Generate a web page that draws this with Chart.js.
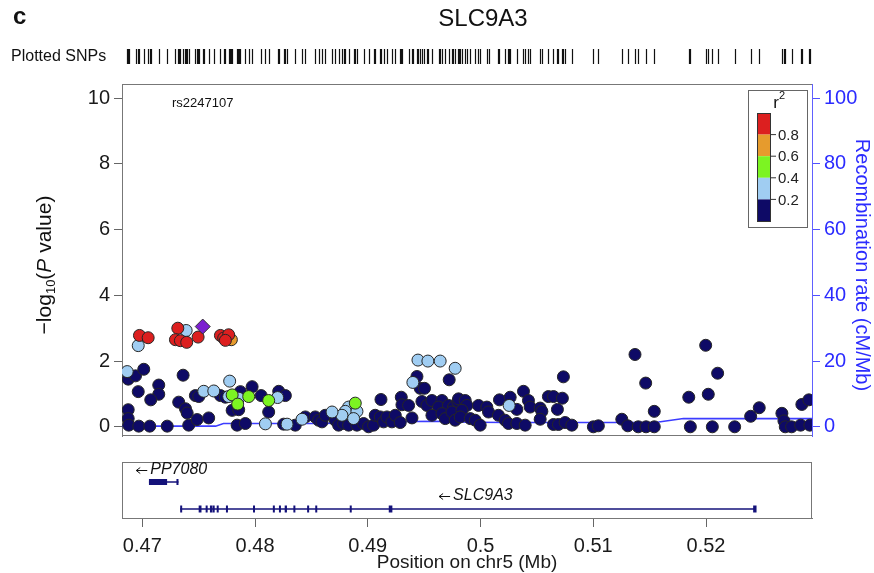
<!DOCTYPE html>
<html>
<head>
<meta charset="utf-8">
<script src="https://cdn.jsdelivr.net/npm/chart.js@4.4.0/dist/chart.umd.min.js"></script>
<style>
  body { margin: 0; background: #fff; }
  #wrap { position: relative; width: 874px; height: 573px; }
  canvas { position: absolute; left: 0; }
  #top { top: 0; }
  #genes { top: 452px; }
</style>
</head>
<body>
<div id="wrap">
  <canvas id="top" width="874" height="452"></canvas>
  <canvas id="genes" width="874" height="121"></canvas>
</div>
<script>
const FONT = '"Liberation Sans", Arial, Helvetica, sans-serif';

// x range of both panels (Mb)
const xMin = 0.4682;
const xMax = 0.5294;
const xTicks = [0.47, 0.48, 0.49, 0.5, 0.51, 0.52];
const yTicks = [0, 2, 4, 6, 8, 10];
const recombTicks = [0, 20, 40, 60, 80, 100];

// SNPs by LD class: position (Mb) and -log10(P)
const leadName = 'rs2247107';
const leadPos = [0.47536];
const leadLogP = [3.05];

const redPos = [0.46975, 0.47052, 0.47315, 0.47294, 0.47338, 0.47394, 0.47495, 0.47693, 0.47722, 0.47766, 0.47737];
const redLogP = [2.78, 2.71, 3.00, 2.65, 2.62, 2.57, 2.73, 2.78, 2.70, 2.80, 2.63];

const orangePos = [0.47790];
const orangeLogP = [2.65];

const greenPos = [0.47797, 0.47846, 0.47944, 0.48121, 0.48889];
const greenLogP = [0.97, 0.69, 0.92, 0.80, 0.72];

const lightPos = [0.46964, 0.47389, 0.46866, 0.47545, 0.47634, 0.47775, 0.47766, 0.47855, 0.48200, 0.48092,
  0.49445, 0.49533, 0.49642, 0.49775, 0.49400, 0.48830, 0.48801, 0.48771, 0.48904, 0.48874,
  0.48683, 0.48417, 0.48284, 0.50254];
const lightLogP = [2.47, 2.93, 1.68, 1.08, 1.09, 1.39, 0.92, 0.87, 0.89, 0.09,
  2.03, 2.00, 2.00, 1.78, 1.35, 0.60, 0.47, 0.35, 0.47, 0.25,
  0.45, 0.23, 0.08, 0.65];

const navyPos = [
  0.46875, 0.46940, 0.47013, 0.47362, 0.46964, 0.47146, 0.47146, 0.47075, 0.47323, 0.47383,
  0.47398, 0.47471, 0.47501, 0.47693, 0.47737, 0.47870, 0.47974, 0.48054, 0.48210, 0.48269,
  0.48121, 0.47797, 0.47855, 0.46875, 0.46875, 0.46880, 0.46969, 0.47066, 0.47221, 0.47412,
  0.47486, 0.47589, 0.47841, 0.47914, 0.48254,
  0.49436, 0.49465, 0.49503, 0.49722, 0.49117, 0.49297, 0.49303, 0.49362, 0.49392, 0.49480,
  0.49525, 0.49569, 0.49658, 0.49628, 0.49716, 0.49760, 0.49799, 0.49805, 0.48357, 0.48446,
  0.48534, 0.48564, 0.48594, 0.48623, 0.48712, 0.48741, 0.48785, 0.48830, 0.48904, 0.48963,
  0.49007, 0.49051, 0.49066, 0.49111, 0.49140, 0.49170, 0.49214, 0.49244, 0.49288, 0.49569,
  0.49658, 0.49687, 0.49746, 0.49775,
  0.50735, 0.50381, 0.50168, 0.50263, 0.50425, 0.50440, 0.50529, 0.50544, 0.50602, 0.50647,
  0.50726, 0.50682, 0.49805, 0.49864, 0.49879, 0.49835, 0.49820, 0.49982, 0.50056, 0.50071,
  0.50159, 0.50322, 0.49909, 0.49953, 0.49997, 0.50219, 0.50248, 0.50322, 0.50396, 0.50529,
  0.50647, 0.50691, 0.50750, 0.50810, 0.51001, 0.51045, 0.51253, 0.51306,
  0.51370, 0.51465, 0.51541, 0.51399, 0.51468, 0.51541, 0.51997, 0.52103, 0.51847, 0.52020,
  0.51861, 0.52056, 0.52254, 0.52396, 0.52472, 0.52673, 0.52691, 0.52703, 0.52759, 0.52839,
  0.52921, 0.52850, 0.52912];
const navyLogP = [
  1.45, 1.55, 1.75, 1.57, 1.07, 1.27, 0.99, 0.82, 0.75, 0.55,
  0.42, 0.95, 0.92, 0.95, 0.90, 1.07, 1.22, 0.95, 1.08, 0.95,
  0.45, 0.50, 0.52, 0.52, 0.25, 0.05, 0.02, 0.02, 0.02, 0.05,
  0.22, 0.27, 0.05, 0.10, 0.08,
  1.53, 1.17, 1.17, 1.43, 0.83, 0.90, 0.67, 0.65, 0.27, 0.77,
  0.65, 0.80, 0.80, 0.60, 0.65, 0.60, 0.77, 0.35, 0.05, 0.30,
  0.30, 0.20, 0.15, 0.35, 0.20, 0.05, 0.10, 0.05, 0.05, 0.10,
  0.00, 0.05, 0.35, 0.30, 0.15, 0.30, 0.15, 0.35, 0.13, 0.35,
  0.40, 0.25, 0.45, 0.20,
  1.52, 1.08, 0.82, 0.90, 0.80, 0.60, 0.57, 0.47, 0.92, 0.92,
  0.87, 0.53, 0.85, 0.80, 0.65, 0.50, 0.30, 0.65, 0.60, 0.45,
  0.35, 0.53, 0.25, 0.20, 0.05, 0.20, 0.10, 0.10, 0.05, 0.23,
  0.07, 0.07, 0.13, 0.05, 0.00, 0.03, 0.23, 0.03,
  2.20, 1.33, 0.47, 0.00, 0.00, 0.00, 2.48, 1.63, 0.90, 0.99,
  0.00, 0.00, 0.00, 0.32, 0.58, 0.41, 0.18, 0.00, 0.00, 0.05,
  0.05, 0.68, 0.82];

// recombination rate (cM/Mb)
const recombPos = [0.4682, 0.4765, 0.4772, 0.4850, 0.4900, 0.4935, 0.4960, 0.4990, 0.5030, 0.5155, 0.5180, 0.5294];
const recombRate = [0.2, 0.2, 1.0, 1.0, 1.2, 1.6, 1.7, 1.4, 1.3, 1.3, 2.5, 2.5];

// r2 legend
const legendColors = ['#dc1f1f', '#e69b2d', '#7cf422', '#a0cdf2', '#0e0a66'];
const legendLabels = ['0.8', '0.6', '0.4', '0.2'];
const leadColor = '#7b1fd0';

// genes
const geneNames = ['PP7080', 'SLC9A3'];
const geneStart = [0.47059, 0.47336];
const geneEnd = [0.47321, 0.52440];
const geneRow = [0, 1];
const exonGene = [0, 0,
  1, 1, 1, 1, 1, 1, 1, 1, 1, 1, 1, 1, 1, 1, 1, 1, 1];
const exonStart = [0.47059, 0.47303,
  0.47336, 0.47500, 0.47562, 0.47600, 0.47624, 0.47660, 0.47742, 0.47982, 0.48158, 0.48212,
  0.48263, 0.48340, 0.48462, 0.48534, 0.48840, 0.49186, 0.52418];
const exonEnd = [0.47220, 0.47321,
  0.47350, 0.47525, 0.47578, 0.47622, 0.47642, 0.47676, 0.47758, 0.47998, 0.48174, 0.48228,
  0.48283, 0.48356, 0.48478, 0.48550, 0.48856, 0.49218, 0.52448];

function pts(xs, ys) { return xs.map((v, i) => ({ x: v, y: ys[i] })); }

const allPos = [].concat(navyPos, lightPos, greenPos, orangePos, redPos, leadPos);

const topDecor = {
  id: 'topDecor',
  afterDraw(chart) {
    const { ctx, chartArea: a, scales: { x, y } } = chart;
    ctx.save();
    // frame top / bottom
    ctx.strokeStyle = '#777';
    ctx.lineWidth = 1;
    ctx.beginPath();
    ctx.moveTo(a.left, a.top + 0.5); ctx.lineTo(a.right, a.top + 0.5);
    ctx.moveTo(a.left, a.bottom - 0.5); ctx.lineTo(a.right, a.bottom - 0.5);
    ctx.stroke();

    // panel letter and title
    ctx.fillStyle = '#111';
    ctx.textBaseline = 'middle';
    ctx.font = 'bold 24px ' + FONT;
    ctx.textAlign = 'left';
    ctx.fillText('c', 13, 17);
    ctx.font = '24px ' + FONT;
    ctx.textAlign = 'center';
    ctx.fillText('SLC9A3', 483, 19);

    // plotted SNP rug
    ctx.font = '16px ' + FONT;
    ctx.textAlign = 'left';
    ctx.fillText('Plotted SNPs', 11, 57);
    ctx.strokeStyle = '#111';
    ctx.lineWidth = 1.2;
    ctx.beginPath();
    allPos.forEach(p => {
      const px = Math.round(x.getPixelForValue(p)) + 0.5;
      ctx.moveTo(px, 49); ctx.lineTo(px, 64);
    });
    ctx.stroke();

    // lead SNP label
    ctx.font = '13px ' + FONT;
    ctx.textAlign = 'center';
    ctx.fillText(leadName, x.getPixelForValue(leadPos[0]), y.getPixelForValue(9.83));

    // left axis title: -log10(P value)
    ctx.save();
    ctx.translate(45, 265);
    ctx.rotate(-Math.PI / 2);
    const parts = [
      { t: '\u2212log', f: '21px ' + FONT, dy: 0 },
      { t: '10', f: '13px ' + FONT, dy: 6 },
      { t: '(', f: '21px ' + FONT, dy: 0 },
      { t: 'P', f: 'italic 21px ' + FONT, dy: 0 },
      { t: ' value)', f: '21px ' + FONT, dy: 0 }
    ];
    let total = 0;
    parts.forEach(p => { ctx.font = p.f; p.w = ctx.measureText(p.t).width; total += p.w; });
    let cx = -total / 2;
    ctx.textAlign = 'left';
    ctx.fillStyle = '#111';
    parts.forEach(p => { ctx.font = p.f; ctx.fillText(p.t, cx, p.dy); cx += p.w; });
    ctx.restore();

    // right axis title
    ctx.save();
    ctx.translate(862, 265);
    ctx.rotate(Math.PI / 2);
    ctx.fillStyle = '#2b2bff';
    ctx.font = '20px ' + FONT;
    ctx.textAlign = 'center';
    ctx.fillText('Recombination rate (cM/Mb)', 0, 0);
    ctx.restore();

    // r2 legend
    const bx = a.right - 64, by = a.top + 6, bw = 59, bh = 137;
    ctx.fillStyle = '#fff';
    ctx.fillRect(bx, by, bw, bh);
    ctx.strokeStyle = '#666';
    ctx.lineWidth = 1;
    ctx.strokeRect(bx + 0.5, by + 0.5, bw, bh);
    ctx.fillStyle = '#111';
    ctx.font = '17px ' + FONT;
    ctx.textAlign = 'center';
    ctx.fillText('r', bx + 28, by + 13);
    ctx.font = '11px ' + FONT;
    ctx.fillText('2', bx + 34, by + 6);
    const segH = 21.6, barX = bx + 9, barW = 13, barTop = by + 23;
    legendColors.forEach((c, i) => {
      ctx.fillStyle = c;
      ctx.fillRect(barX, barTop + i * segH, barW, segH);
    });
    ctx.strokeStyle = '#333';
    ctx.strokeRect(barX + 0.5, barTop + 0.5, barW, segH * legendColors.length);
    ctx.fillStyle = '#222';
    ctx.font = '15px ' + FONT;
    ctx.textAlign = 'left';
    ctx.beginPath();
    legendLabels.forEach((l, i) => {
      const ly = barTop + (i + 1) * segH;
      ctx.moveTo(barX + barW, ly); ctx.lineTo(barX + barW + 6, ly);
      ctx.fillText(l, barX + barW + 8, ly + 1);
    });
    ctx.stroke();
    ctx.restore();
  }
};

const dotStyle = { pointRadius: 6, borderColor: '#262626', borderWidth: 1, clip: 0 };

new Chart(document.getElementById('top'), {
  type: 'scatter',
  data: {
    datasets: [
      { label: leadName, data: pts(leadPos, leadLogP), backgroundColor: leadColor, pointStyle: 'rectRot',
        pointRadius: 7.5, borderColor: '#333', borderWidth: 1, clip: 0, order: 0 },
      Object.assign({ label: '0.8-1', data: pts(redPos, redLogP), backgroundColor: legendColors[0], order: 1 }, dotStyle),
      Object.assign({ label: '0.6-0.8', data: pts(orangePos, orangeLogP), backgroundColor: legendColors[1], order: 2 }, dotStyle),
      Object.assign({ label: '0.4-0.6', data: pts(greenPos, greenLogP), backgroundColor: legendColors[2], order: 3 }, dotStyle),
      Object.assign({ label: '0.2-0.4', data: pts(lightPos, lightLogP), backgroundColor: legendColors[3], order: 4 }, dotStyle),
      Object.assign({ label: '0-0.2', data: pts(navyPos, navyLogP), backgroundColor: legendColors[4], order: 5 }, dotStyle),
      { type: 'line', label: 'recomb', data: pts(recombPos, recombRate), yAxisID: 'y2',
        borderColor: '#3c3cff', borderWidth: 1.6, pointRadius: 0, tension: 0, clip: 0, order: 6 }
    ]
  },
  options: {
    responsive: false,
    animation: false,
    layout: { padding: { top: 84, bottom: 11, left: 0, right: 0 } },
    plugins: { legend: { display: false }, tooltip: { enabled: false } },
    scales: {
      x: { type: 'linear', min: xMin, max: xMax, display: false },
      y: {
        position: 'left', min: -0.28, max: 10.43,
        afterBuildTicks: s => { s.ticks = yTicks.map(v => ({ value: v })); },
        ticks: { font: { size: 20, family: FONT }, color: '#1a1a1a', padding: 4 },
        grid: { drawOnChartArea: false, tickLength: 8, color: '#666' },
        border: { color: '#777' },
        afterFit: s => { s.width = 122; }
      },
      y2: {
        position: 'right', min: -2.8, max: 104.3,
        afterBuildTicks: s => { s.ticks = recombTicks.map(v => ({ value: v })); },
        ticks: { font: { size: 20, family: FONT }, color: '#2b2bff', padding: 4 },
        grid: { drawOnChartArea: false, tickLength: 8, color: '#5050ff' },
        border: { color: '#6060ff' },
        afterFit: s => { s.width = 62; }
      }
    }
  },
  plugins: [topDecor]
});

const geneDecor = {
  id: 'geneDecor',
  afterDraw(chart) {
    const { ctx, chartArea: a, scales: { x } } = chart;
    ctx.save();
    ctx.strokeStyle = '#777';
    ctx.lineWidth = 1;
    ctx.strokeRect(a.left + 0.5, a.top + 0.5, a.right - a.left - 1, a.bottom - a.top);

    const rowLabelY = [18, 44], rowLineY = [30, 57], rowExonH = [6, 7];
    const navy = '#14127a';
    geneNames.forEach((g, i) => {
      const r = geneRow[i];
      const x0 = x.getPixelForValue(geneStart[i]), x1 = x.getPixelForValue(geneEnd[i]);
      ctx.strokeStyle = navy;
      ctx.lineWidth = 1.5;
      ctx.beginPath();
      ctx.moveTo(x0, rowLineY[r]); ctx.lineTo(x1, rowLineY[r]);
      ctx.stroke();
      // label: arrow + italic name
      ctx.font = 'italic 16px ' + FONT;
      const nw = ctx.measureText(g).width;
      const aw = 11;
      const mid = (x0 + x1) / 2 + 8;
      const sx = mid - (aw + nw + 3) / 2;
      const ly = rowLabelY[r];
      ctx.strokeStyle = '#111';
      ctx.lineWidth = 1;
      ctx.beginPath();
      ctx.moveTo(sx, ly + 0.5); ctx.lineTo(sx + aw, ly + 0.5);
      ctx.moveTo(sx + 4, ly - 2.5); ctx.lineTo(sx, ly + 0.5); ctx.lineTo(sx + 4, ly + 3.5);
      ctx.stroke();
      ctx.fillStyle = '#111';
      ctx.textBaseline = 'middle';
      ctx.textAlign = 'left';
      ctx.fillText(g, sx + aw + 3, ly);
    });
    ctx.fillStyle = navy;
    exonStart.forEach((s, j) => {
      const r = geneRow[exonGene[j]];
      const px0 = x.getPixelForValue(s), px1 = x.getPixelForValue(exonEnd[j]);
      const h = rowExonH[r];
      ctx.fillRect(px0, rowLineY[r] - h / 2, Math.max(2, px1 - px0), h);
    });

    // x axis title
    ctx.fillStyle = '#1a1a1a';
    ctx.font = '19px ' + FONT;
    ctx.textAlign = 'center';
    ctx.textBaseline = 'middle';
    ctx.fillText('Position on chr5 (Mb)', (a.left + a.right) / 2, 111);
    ctx.restore();
  }
};

new Chart(document.getElementById('genes'), {
  type: 'scatter',
  data: { datasets: [{ data: [] }] },
  options: {
    responsive: false,
    animation: false,
    layout: { padding: { top: 10, left: 122, right: 62, bottom: 0 } },
    plugins: { legend: { display: false }, tooltip: { enabled: false } },
    scales: {
      x: {
        type: 'linear', min: xMin, max: xMax,
        afterBuildTicks: s => { s.ticks = xTicks.map(v => ({ value: v })); },
        ticks: { font: { size: 20, family: FONT }, color: '#1a1a1a', padding: 7, maxRotation: 0, autoSkip: false,
                 callback: v => String(v) },
        grid: { drawOnChartArea: false, tickLength: 9, color: '#666' },
        border: { color: '#777' },
        afterFit: s => { s.height = 55; }
      },
      y: { display: false, min: 0, max: 1 }
    }
  },
  plugins: [geneDecor]
});
</script>
</body>
</html>
